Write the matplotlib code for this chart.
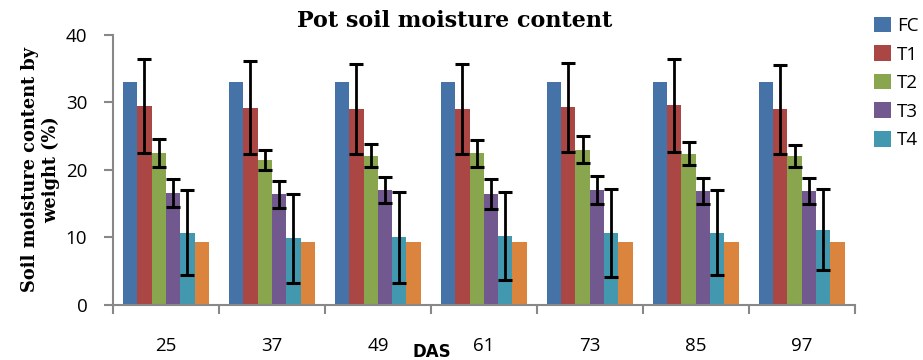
import numpy as np
import matplotlib.pyplot as plt
from matplotlib.ticker import FixedLocator, NullFormatter

# dias despues de siembra (DAS)
das = ["25", "37", "49", "61", "73", "85", "97"]
series = ["FC", "T1", "T2", "T3", "T4"]

fc = [33.0, 33.0, 33.0, 33.0, 33.0, 33.0, 33.0]
t1 = [29.5, 29.2, 29.0, 29.0, 29.3, 29.6, 29.0]
t2 = [22.5, 21.5, 22.1, 22.5, 23.0, 22.4, 22.1]
t3 = [16.6, 16.4, 17.0, 16.4, 17.0, 16.9, 16.9]
t4 = [10.7, 9.9, 10.0, 10.2, 10.7, 10.7, 11.1]
extra = [9.33, 9.33, 9.33, 9.33, 9.33, 9.33, 9.33]  # barra naranja sin leyenda

t1_err = [7.0, 6.9, 6.7, 6.7, 6.6, 6.9, 6.6]
t2_err = [2.1, 1.5, 1.7, 2.0, 2.0, 1.7, 1.6]
t3_err = [2.1, 2.0, 1.9, 2.2, 2.1, 1.9, 1.9]
t4_err = [6.3, 6.6, 6.7, 6.5, 6.5, 6.3, 6.0]

colores = ["#4572a7", "#aa4643", "#89a54e", "#71588f", "#4198af", "#db843d"]

fig = plt.figure(figsize=(9.23, 3.6), dpi=100)
ax = fig.add_axes([0.1224, 0.153, 0.8036, 0.75])

x = np.arange(len(das))
w = 0.135
valores = [fc, t1, t2, t3, t4, extra]
errores = [None, t1_err, t2_err, t3_err, t4_err, None]
etiquetas = series + [None]

for i, (v, e, c, lab) in enumerate(zip(valores, errores, colores, etiquetas)):
    pos = x + (i - 2.5) * w
    ax.bar(pos, v, width=w, color=c, label=lab)
    if e is not None:
        ax.errorbar(pos, v, yerr=e, fmt="none", ecolor="black",
                    elinewidth=2, capsize=5, capthick=2.2)

ax.set_xlim(-0.5, len(das) - 0.5)
ax.set_ylim(0, 40)
ax.set_yticks([0, 10, 20, 30, 40])

ax.set_xticks(x)
ax.set_xticklabels(das, fontsize=13.5, fontfamily="Open Sans")
ax.tick_params(axis="x", which="major", length=0, pad=23)
ax.xaxis.set_minor_locator(FixedLocator(np.arange(-0.5, len(das), 1.0)))
ax.xaxis.set_minor_formatter(NullFormatter())
ax.tick_params(axis="x", which="minor", length=6.5, width=1.5, color="#888888")
ax.tick_params(axis="y", length=6.5, width=1.5, color="#888888",
               labelsize=13.5, pad=12)
for t in ax.get_yticklabels():
    t.set_fontfamily("Open Sans")

for s in ["top", "right"]:
    ax.spines[s].set_visible(False)
for s in ["left", "bottom"]:
    ax.spines[s].set_color("#888888")
    ax.spines[s].set_linewidth(1.5)

ax.set_ylabel("Soil moisture content by\nweight (%)", fontsize=12.8,
              fontweight="bold", fontfamily="DejaVu Serif", labelpad=4,
              linespacing=1.2)
fig.text(0.468, 0.008, "DAS", fontsize=12, fontweight="bold",
         fontfamily="DejaVu Sans", ha="center")
fig.text(0.493, 0.925, "Pot soil moisture content", fontsize=16,
         fontweight="bold", fontfamily="DejaVu Serif", ha="center")

ax.legend(loc="upper left", bbox_to_anchor=(1.003, 1.13), frameon=False,
          handlelength=0.9, handleheight=0.9,
          handletextpad=0.35, labelspacing=0.55,
          prop={"family": "Open Sans", "size": 13.5})

fig.savefig("out.png", dpi=100)
